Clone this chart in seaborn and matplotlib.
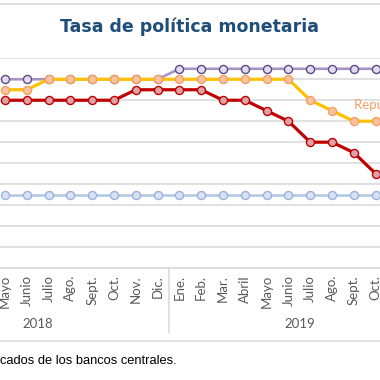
import numpy as np
import pandas as pd
import seaborn as sns
import matplotlib.pyplot as plt
from matplotlib.lines import Line2D

# meses visibles (mayo 2018 - octubre 2019)
meses = ["Mayo", "Junio", "Julio", "Ago.", "Sept.", "Oct.", "Nov.", "Dic.",
         "Ene.", "Feb.", "Mar.", "Abril", "Mayo", "Junio", "Julio", "Ago.", "Sept.", "Oct."]
anios = ["2018", "2019"]

# tasas (%)
honduras = [5.5, 5.5, 5.5, 5.5, 5.5, 5.5, 5.5, 5.5,
            5.75, 5.75, 5.75, 5.75, 5.75, 5.75, 5.75, 5.75, 5.75, 5.75]
rep_dominicana = [5.25, 5.25, 5.5, 5.5, 5.5, 5.5, 5.5, 5.5,
                  5.5, 5.5, 5.5, 5.5, 5.5, 5.5, 5.0, 4.75, 4.5, 4.5]
costa_rica = [5.0, 5.0, 5.0, 5.0, 5.0, 5.0, 5.25, 5.25,
              5.25, 5.25, 5.0, 5.0, 4.75, 4.5, 4.0, 4.0, 3.75, 3.25]
guatemala = [2.75] * 18

df = pd.DataFrame({
    'pos': np.arange(len(meses)),
    'Honduras': honduras,
    'RepDom': rep_dominicana,
    'CostaRica': costa_rica,
    'Guatemala': guatemala,
})

sns.set_style("white")
fig = plt.figure(figsize=(3.8, 3.8), dpi=100)
ax = fig.add_axes([0, 0.2947, 1, 0.5519])

estilos = [
    ('Guatemala', '#B4C7E7', '#D9E2F3', '#9BB3DC', 1.9),
    ('Honduras', '#A793C8', '#E4DCEE', '#5E4A86', 1.9),
    ('RepDom', '#FFC000', '#F9C3A0', '#F2A064', 2.3),
    ('CostaRica', '#C00000', '#DDA3A8', '#C00000', 2.3),
]
for col, lc, fc, ec, lw in estilos:
    sns.lineplot(data=df, x='pos', y=col, ax=ax, color=lc, linewidth=lw,
                 marker='o', markersize=5.8, markerfacecolor=fc,
                 markeredgecolor=ec, markeredgewidth=1.0)

ax.set_xlim(-0.23, 17.2)
ax.set_ylim(1.0, 6.0)
ax.set_yticks(np.arange(1.0, 6.01, 0.5))
ax.set_yticklabels([])
ax.grid(axis='y', color='#D9D9D9', linewidth=1.1)
ax.set_axisbelow(True)
for s in ['left', 'right', 'top']:
    ax.spines[s].set_visible(False)
ax.spines['bottom'].set_color('#D9D9D9')
ax.spines['bottom'].set_linewidth(1.1)
ax.set_xlabel('')
ax.set_ylabel('')
ax.set_xticks(df['pos'])
ax.set_xticklabels(meses, rotation=90, fontsize=9.5, color='#595959', family='Lato')
ax.tick_params(axis='x', length=0, pad=5)
ax.tick_params(axis='y', length=0)

# etiqueta de la serie
ax.annotate('República Dominicana', xy=(16, rep_dominicana[16]), xytext=(0, 7),
            textcoords='offset points', ha='left', va='bottom', fontsize=9.5,
            color='#F4A16A', family='Lato', annotation_clip=False)

# años y separadores del eje
trans = ax.get_xaxis_transform()
ax.text(1.5, -0.267, anios[0], transform=trans, ha='center', va='center',
        fontsize=9.5, color='#595959', family='Lato')
ax.text(13.5, -0.267, anios[1], transform=trans, ha='center', va='center',
        fontsize=9.5, color='#595959', family='Lato')
ax.plot([7.5, 7.5], [0, -0.31], transform=trans, color='#D9D9D9',
        linewidth=1.1, clip_on=False)
fig.add_artist(Line2D([0, 1], [1 - 340.5 / 380] * 2, color='#D9D9D9', linewidth=1.1))
fig.add_artist(Line2D([0, 1], [1 - 4 / 380] * 2, color='#D9D9D9', linewidth=1.1))

fig.text(0.5, 1 - 27 / 380, 'Tasa de política monetaria', ha='center', va='center',
         fontsize=12.5, fontweight='bold', color='#1F4E79', family='DejaVu Sans')
fig.text(0.0, 1 - 361 / 380, 'cados de los bancos centrales.', ha='left', va='center',
         fontsize=9.3, color='#000000', family='Liberation Sans')

fig.savefig('out.png', dpi=100)
